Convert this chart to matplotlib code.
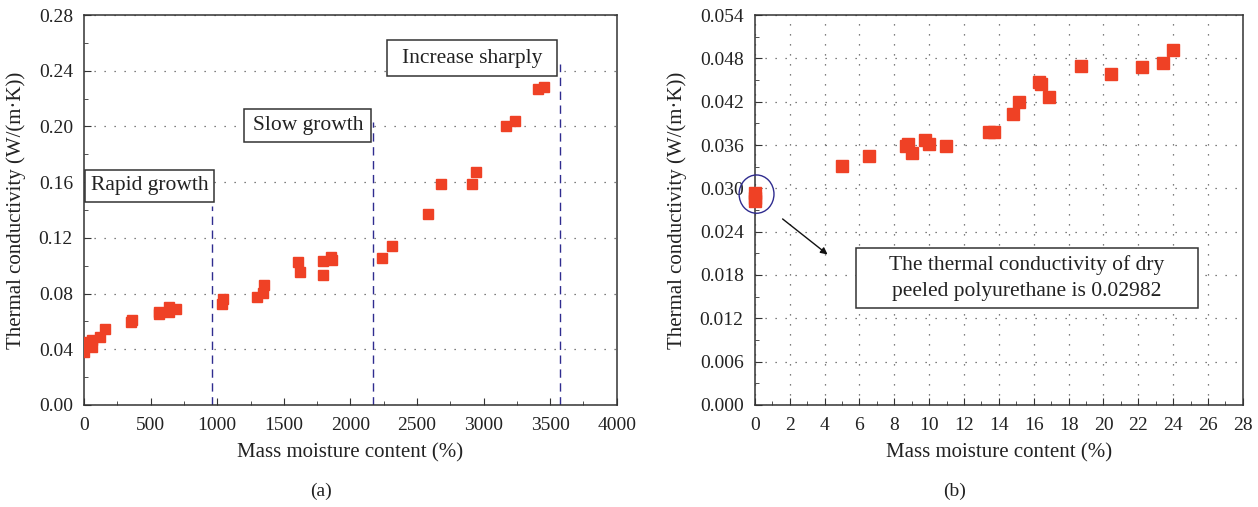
import matplotlib
matplotlib.use('Agg')
from matplotlib import pyplot as plt
from matplotlib.patches import Ellipse, Rectangle
from matplotlib.ticker import MultipleLocator

plt.rcParams['font.family'] = ['Liberation Serif', 'DejaVu Serif']

# panel (a): mass moisture content (%) vs thermal conductivity
moist_a = [0, 0, 61, 61, 123, 157, 354, 363, 563, 563, 640, 640, 692,
           1034, 1046, 1302, 1342, 1348, 1606, 1618, 1797, 1797, 1855, 1862,
           2234, 2314, 2582, 2677, 2914, 2945, 3166, 3234, 3412, 3455]
cond_a = [0.0383, 0.0455, 0.0419, 0.0467, 0.0486, 0.0546, 0.0598, 0.0610,
          0.0651, 0.0670, 0.0670, 0.0706, 0.0687,
          0.0725, 0.0763, 0.0773, 0.0807, 0.0859, 0.1027, 0.0957, 0.1034,
          0.0936, 0.1065, 0.1040,
          0.1053, 0.1142, 0.1369, 0.1584, 0.1589, 0.1673, 0.2005, 0.2041,
          0.2271, 0.2281]
stage_x = [963, 2172, 3572]
stage_top = [0.143, 0.203, 0.245]
stage_labels = ['Rapid growth', 'Slow growth', 'Increase sharply']
stage_x0 = [9, 1203, 2274]
stage_x1 = [975, 2157, 3554]
stage_y0 = [0.1455, 0.1886, 0.236]
stage_y1 = [0.169, 0.2125, 0.262]

# panel (b)
moist_b = [0, 0, 0, 4.99, 6.53, 8.69, 8.76, 8.99, 9.79, 9.99, 10.99,
           13.43, 13.73, 14.8, 15.14, 16.28, 16.39, 16.85, 18.73, 20.44,
           22.19, 23.4, 23.97]
cond_b = [0.0293, 0.0287, 0.0283, 0.0331, 0.0345, 0.0358, 0.0361, 0.0349,
          0.0367, 0.0361, 0.0359, 0.0378, 0.0378, 0.0403, 0.0420, 0.0447,
          0.0444, 0.0427, 0.0470, 0.0459, 0.0468, 0.0473, 0.0492]
note_b = 'The thermal conductivity of dry\npeeled polyurethane is 0.02982'

red = '#ef4125'
navy = '#2f2c8f'
dotted = (0, (1, 7))

fig = plt.figure(figsize=(12.58, 5.07), dpi=100)
ax1 = fig.add_axes([0.0668, 0.2012, 0.4235, 0.7692])
ax2 = fig.add_axes([0.600, 0.2012, 0.388, 0.7692])

#---- (a)
ax1.plot(moist_a, cond_a, 's', color=red, markersize=6.8, zorder=3)
for x, top in zip(stage_x, stage_top):
    ax1.plot([x, x], [0, top], color=navy, lw=1, ls=(0, (6, 4)), zorder=2)
for lab, x0, x1, y0, y1 in zip(stage_labels, stage_x0, stage_x1, stage_y0, stage_y1):
    ax1.add_patch(Rectangle((x0, y0), x1 - x0, y1 - y0, fc='white',
                            ec='#333333', lw=1.1, zorder=4))
    ax1.text((x0 + x1) / 2, (y0 + y1) / 2, lab, fontsize=15.5,
             ha='center', va='center', zorder=5, color='#222222')
ax1.set_xlim(0, 4000)
ax1.set_ylim(0, 0.28)
ax1.xaxis.set_major_locator(MultipleLocator(500))
ax1.xaxis.set_minor_locator(MultipleLocator(250))
ax1.yaxis.set_major_locator(MultipleLocator(0.04))
ax1.yaxis.set_minor_locator(MultipleLocator(0.02))
ax1.yaxis.set_major_formatter(lambda v, p: '%.2f' % v)
ax1.grid(axis='y', which='major', color='#555555', ls=dotted, lw=0.9)

#---- (b)
ax2.plot(moist_b, cond_b, 's', color=red, markersize=8, zorder=3, clip_on=False)
ax2.add_patch(Ellipse((0.1, 0.0292), 2.0, 0.0053, fill=False, ec=navy,
                      lw=1, clip_on=False, zorder=4))
ax2.annotate('', xy=(4.3, 0.0206), xytext=(1.47, 0.0260),
             arrowprops=dict(arrowstyle='-|>', color='#111111', lw=1,
                             mutation_scale=10))
ax2.add_patch(Rectangle((5.8, 0.0134), 19.6, 0.0084, fc='white',
                        ec='#333333', lw=1.1, zorder=4))
ax2.text(15.6, 0.0176, note_b, fontsize=15.5, ha='center', va='center',
         linespacing=1.5, zorder=5, color='#222222')
ax2.set_xlim(0, 28)
ax2.set_ylim(0, 0.054)
ax2.xaxis.set_major_locator(MultipleLocator(2))
ax2.xaxis.set_minor_locator(MultipleLocator(1))
ax2.yaxis.set_major_locator(MultipleLocator(0.006))
ax2.yaxis.set_minor_locator(MultipleLocator(0.003))
ax2.yaxis.set_major_formatter(lambda v, p: '%.3f' % v)
ax2.grid(which='major', color='#555555', ls=dotted, lw=0.9)

for ax in (ax1, ax2):
    ax.set_xlabel('Mass moisture content (%)', fontsize=15, color='#222222',
                  labelpad=6)
    ax.set_ylabel('Thermal conductivity (W/(m·K))', fontsize=15,
                  color='#222222', labelpad=9)
    ax.tick_params(which='both', direction='in', labelsize=14, top=False,
                   right=False, labelcolor='#222222', color='#333333')
    ax.tick_params(axis='x', which='major', length=5, pad=9)
    ax.tick_params(axis='y', which='major', length=5, pad=8)
    ax.tick_params(which='minor', length=3)
    for s in ax.spines.values():
        s.set_color('#333333')
        s.set_linewidth(1.1)
    ax.set_axisbelow(True)

fig.text(0.255, 0.0316, '(a)', fontsize=14, ha='center', va='center', color='#222222')
fig.text(0.759, 0.0316, '(b)', fontsize=14, ha='center', va='center', color='#222222')

fig.savefig('out.png', dpi=100)
